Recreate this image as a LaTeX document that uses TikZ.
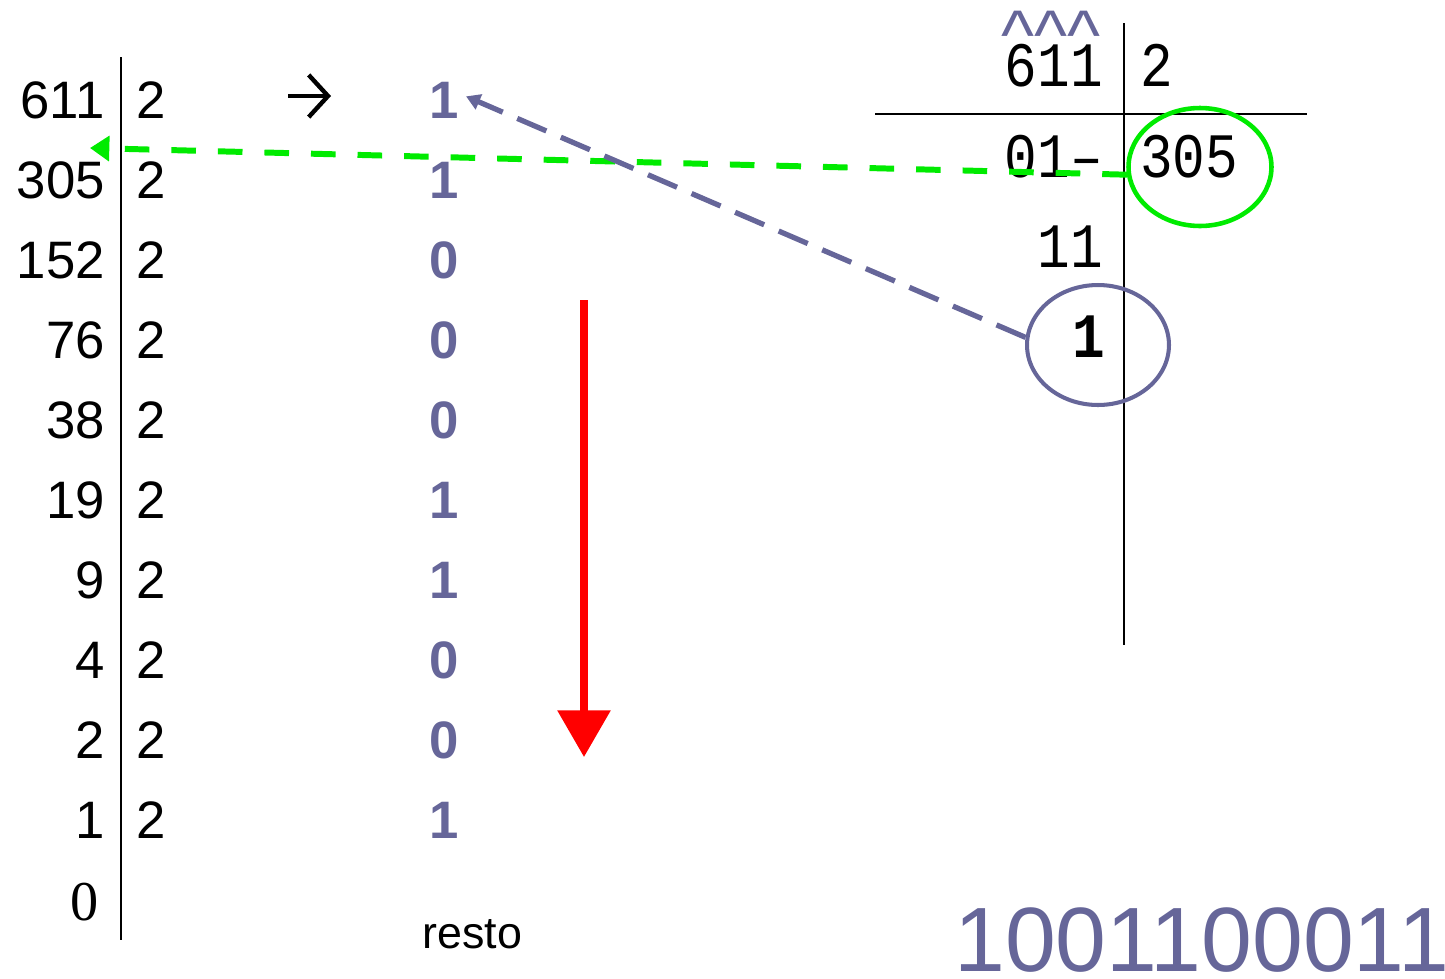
\documentclass[tikz,border=0pt]{standalone}
\usepackage{fontspec}
\setmainfont{Liberation Sans}
\newfontfamily\serifnum{Liberation Serif}
\newfontfamily\monof{Liberation Mono}
\usetikzlibrary{arrows.meta,shapes.geometric}
\definecolor{slate}{RGB}{102,102,153}
\definecolor{brightgreen}{RGB}{0,235,0}
\definecolor{pureRed}{RGB}{255,0,0}
\begin{document}
\begin{tikzpicture}[x=0.02cm,y=-0.02cm,
  num/.style={anchor=base east,inner sep=0pt,font=\fontsize{30}{30}\selectfont},
  divisor/.style={anchor=base west,inner sep=0pt,font=\fontsize{30}{30}\selectfont},
  rem/.style={anchor=base,inner sep=0pt,text=slate,font=\fontsize{30}{30}\selectfont\bfseries},
  mono/.style={inner sep=0pt,text height=0.68em,text depth=0pt,font=\fontsize{36}{36}\selectfont\monof},
  rule/.style={line width=1.2pt},
  oval/.style={ellipse,draw,line width=2.6pt,minimum width=2.86cm,minimum height=2.36cm,inner sep=0pt}
]
\useasboundingbox (0,0) rectangle (1445,978);
% left column
\foreach \v/\k in {611/0,305/1,152/2,76/3,38/4,19/5,9/6,4/7,2/8,1/9}{
  \node[num] (n\v) at (105,{118+80*\k}) {\v};
  \node[divisor] (d\v) at (136,{118+80*\k}) {2};
}
\node[anchor=base east,inner sep=0pt,font=\fontsize{32}{32}\selectfont\serifnum] (n0) at (99,920) {0};
\draw[line width=1.7pt] (121,57) -- (121,940);
% remainders
\foreach \r/\k in {1/0,1/1,0/2,0/3,0/4,1/5,1/6,0/7,0/8,1/9}{
  \node[rem] (r\k) at (444,{118+80*\k}) {\r};
}
\node[anchor=base west,inner sep=0pt,font=\fontsize{25.5}{25.5}\selectfont] (resto) at (422,948) {resto};
% small black arrow
\coordinate (a1) at (288,96);
\coordinate (a2) at (331,96);
\draw[line width=2.5pt,-{Straight Barb[length=11pt,width=24pt,line width=2.5pt]}] (a1) -- (a2);
% red arrow
\coordinate (rtop) at (584,300);
\coordinate (rbot) at (584,757);
\draw[pureRed,line width=4pt,-{Triangle[length=26.6pt,width=29.5pt]}] (rtop) -- (rbot);
% right division
\node[anchor=south east,inner sep=0pt,text=slate,font=\fontsize{40}{40}\selectfont] (carets) at (1101,37) {\raisebox{-0.32em}[0.4em][0pt]{\^{}\^{}\^{}}};
\node[mono,anchor=base east] (m611) at (1103,86) {\scalebox{0.86}[1]{611}};
\node[mono,anchor=base west] (m2) at (1140,86) {\scalebox{0.86}[1]{2}};
\node[mono,anchor=base east] (m01) at (1103,177) {\scalebox{0.86}[1]{01–}};
\node[mono,anchor=base west] (m305) at (1140,177) {\scalebox{0.86}[1]{305}};
\node[mono,anchor=base east] (m11) at (1103,267) {\scalebox{0.86}[1]{11}};
\node[mono,anchor=base,font=\fontsize{36}{36}\selectfont\monof\bfseries] (m1) at (1089,357) {\scalebox{0.86}[1]{1}};
\draw[rule] (1124,23) -- (1124,645);
\draw[rule] (875,114) -- (1307,114);
\node[oval,draw=brightgreen] (gcirc) at (1200,167) {};
\node[oval,draw=slate,line width=2.3pt,minimum width=2.84cm,minimum height=2.4cm] (bcirc) at (1098,345) {};
% binary result
\node[anchor=base west,inner sep=0pt,text depth=0pt,text=slate,font=\fontsize{52}{52}\selectfont] (bin) at (954,971) {1001100011};
% dashed connectors
\coordinate (gtip) at (90,148);
\draw[brightgreen,line width=3.4pt,dash pattern=on 14pt off 12.5pt,-{Triangle[length=11pt,width=14pt]}] (gcirc.186) -- (gtip);
\draw[slate,line width=3pt,dash pattern=on 18pt off 9pt,-{Triangle[length=8pt,width=9pt]}] (bcirc.174) -- ([xshift=4pt,yshift=2pt]r0.east);
\end{tikzpicture}
\end{document}
